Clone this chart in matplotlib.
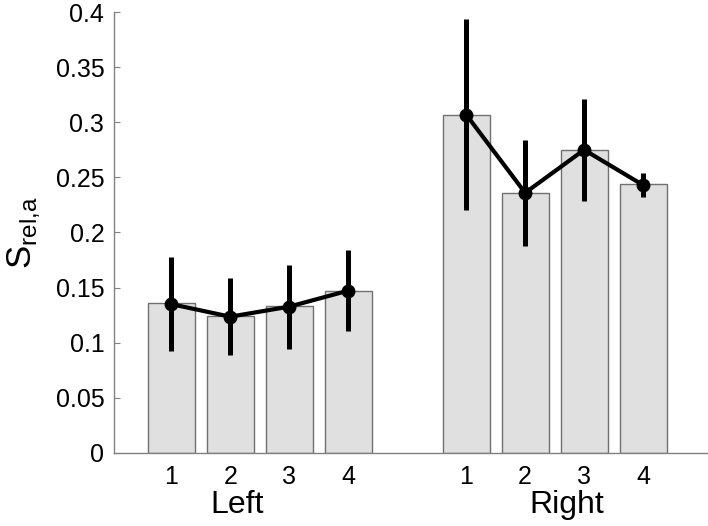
import matplotlib
matplotlib.use('Agg')
import matplotlib.pyplot as plt

plt.rcParams['font.family'] = ['Liberation Sans', 'DejaVu Sans']

# bar positions (two groups with a gap) and labels
positions = [1, 2, 3, 4, 6, 7, 8, 9]
tick_labels = ['1', '2', '3', '4', '1', '2', '3', '4']
group_names = ['Left', 'Right']
group_label_x = [2.12, 7.7]

left_bars = [0.136, 0.124, 0.133, 0.147]
right_bars = [0.307, 0.236, 0.275, 0.244]
left_means = [0.135, 0.1236, 0.1327, 0.1472]
right_means = [0.307, 0.236, 0.275, 0.243]
left_err = [0.0427, 0.0348, 0.038, 0.037]
right_err = [0.087, 0.048, 0.046, 0.011]

yticks = [0, 0.05, 0.1, 0.15, 0.2, 0.25, 0.3, 0.35, 0.4]

fig = plt.figure(figsize=(7.08, 5.26), dpi=100)
ax = fig.add_axes([0.161, 0.139, 0.839, 0.838])

bars = left_bars + right_bars
ax.bar(positions, bars, width=0.8, color='#e0e0e0', edgecolor='#707070', linewidth=1, zorder=1)

# each group gets its own connected line with error bars
for xs, m, e in [(positions[:4], left_means, left_err), (positions[4:], right_means, right_err)]:
    ax.errorbar(xs, m, yerr=e, color='black', linewidth=3, elinewidth=3.6, capsize=0,
                marker='o', markersize=9, zorder=3)

ax.set_xlim(0.03, 10.1)
ax.set_ylim(0, 0.4)
ax.set_yticks(yticks)
ax.set_yticklabels(['%g' % v for v in yticks])
ax.set_xticks(positions)
ax.set_xticklabels(tick_labels)

ax.tick_params(axis='y', direction='in', length=4, color='#808080', labelsize=18, pad=7)
ax.tick_params(axis='x', length=0, labelsize=18, pad=9)

for s in ['top', 'right']:
    ax.spines[s].set_visible(False)
for s in ['left', 'bottom']:
    ax.spines[s].set_color('#808080')
    ax.spines[s].set_linewidth(1)

for name, xpos in zip(group_names, group_label_x):
    ax.text(xpos, -0.047, name, fontsize=23, ha='center', va='center')

ax.set_ylabel(r'S$_{\mathregular{rel{,}a}}$', fontsize=25)
ax.yaxis.set_label_coords(-0.122, 0.5)

fig.savefig('out.png', dpi=100)
